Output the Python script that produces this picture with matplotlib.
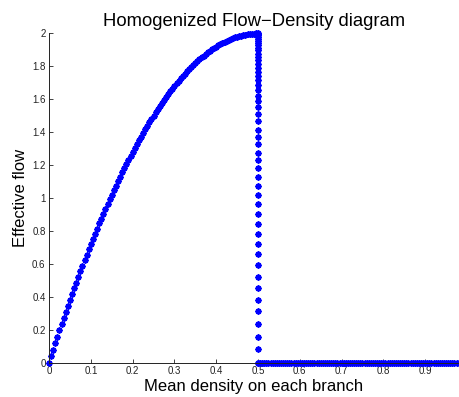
import matplotlib
matplotlib.use("Agg")
import matplotlib.pyplot as plt
import numpy as np

# free-flow branch: density grid 0 .. 0.5, step 0.005
free_density = np.arange(0, 101) * 0.005
free_flow = [
    0.000, 0.040, 0.079, 0.118, 0.157, 0.195, 0.233, 0.270, 0.307, 0.344,
    0.380, 0.416, 0.451, 0.486, 0.521, 0.555, 0.589, 0.622, 0.655, 0.688,
    0.720, 0.752, 0.783, 0.814, 0.845, 0.875, 0.905, 0.934, 0.963, 0.992,
    1.020, 1.048, 1.075, 1.102, 1.129, 1.155, 1.181, 1.206, 1.231, 1.256,
    1.280, 1.304, 1.327, 1.350, 1.373, 1.395, 1.417, 1.438, 1.459, 1.480,
    1.500, 1.520, 1.539, 1.558, 1.577, 1.595, 1.613, 1.630, 1.647, 1.664,
    1.680, 1.696, 1.711, 1.726, 1.741, 1.755, 1.769, 1.782, 1.795, 1.808,
    1.820, 1.832, 1.843, 1.854, 1.865, 1.875, 1.885, 1.894, 1.903, 1.912,
    1.920, 1.928, 1.935, 1.942, 1.949, 1.955, 1.961, 1.966, 1.971, 1.976,
    1.980, 1.984, 1.987, 1.990, 1.993, 1.995, 1.997, 1.998, 1.999, 2.000,
    2.000,
]

# drop at critical density 0.5
drop_flow = [
    1.998, 1.988, 1.978, 1.967, 1.955, 1.942, 1.929, 1.914, 1.897, 1.877,
    1.857, 1.837, 1.817, 1.790, 1.766, 1.741, 1.715, 1.685, 1.655, 1.620,
    1.588, 1.553, 1.513, 1.466, 1.412, 1.371, 1.325, 1.276, 1.230, 1.179,
    1.128, 1.073, 1.017, 0.961, 0.903, 0.843, 0.782, 0.721, 0.657, 0.590,
    0.519, 0.451, 0.381, 0.311, 0.234, 0.157, 0.080, 0.000,
]
drop_density = [0.5] * len(drop_flow)

# congested branch: zero flow from 0.5 to ~0.98
jam_density = 0.5 + np.arange(0, 97) * 0.005
jam_flow = [0.0] * len(jam_density)

x_ticks = [0, 0.1, 0.2, 0.3, 0.4, 0.5, 0.6, 0.7, 0.8, 0.9]
y_ticks = [0, 0.2, 0.4, 0.6, 0.8, 1, 1.2, 1.4, 1.6, 1.8, 2]

plt.rcParams["font.family"] = ["Liberation Sans", "DejaVu Sans"]

fig = plt.figure(figsize=(4.59, 3.97), dpi=100)
ax = fig.add_axes([0.1068, 0.0869, 0.8924, 0.829])

star = dict(linestyle="none", marker=(8, 2, 0), color="blue",
            markersize=4.3, markeredgewidth=1.3, clip_on=False)
ax.plot(free_density, free_flow, **star)
ax.plot(drop_density, drop_flow, **star)
ax.plot(jam_density, jam_flow, **star)

ax.set_xlim(0, 0.98)
ax.set_ylim(0, 2)
ax.set_xticks(x_ticks)
ax.set_xticklabels([f"{t:g}" for t in x_ticks])
ax.set_yticks(y_ticks)
ax.set_yticklabels([f"{t:g}" for t in y_ticks])
ax.tick_params(direction="in", length=3, width=0.6, labelsize=7,
               colors="#222222", pad=2.5)

ax.spines[["top", "right"]].set_visible(False)
for s in ["left", "bottom"]:
    ax.spines[s].set_linewidth(0.7)
    ax.spines[s].set_color("#222222")

ax.set_xlabel("Mean density on each branch", fontsize=12, labelpad=2)
ax.set_ylabel("Effective flow", fontsize=12, labelpad=3)
ax.set_title("Homogenized Flow\u2212Density diagram", fontsize=13.3, pad=5)

fig.savefig("out.png", dpi=100)
